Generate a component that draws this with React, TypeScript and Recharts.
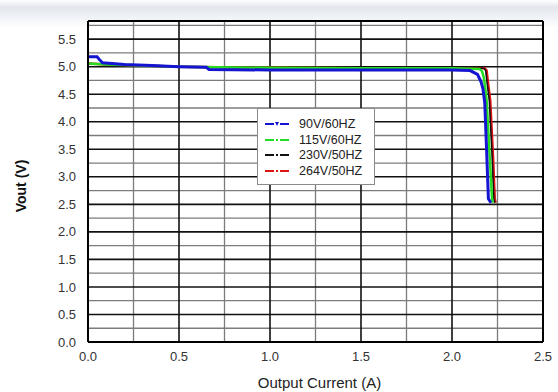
import { LineChart, Line, XAxis, YAxis, CartesianGrid, ReferenceLine } from 'recharts'

// Output current (A) / output voltage (V) for each input condition
const blueCurrent = [0, 0.05, 0.065, 0.08, 0.2, 0.35, 0.5, 0.65, 0.665, 1.0, 1.5, 2.0, 2.1, 2.14, 2.16, 2.17, 2.18, 2.19, 2.2, 2.21, 2.215]
const blueVout = [5.18, 5.18, 5.12, 5.07, 5.04, 5.02, 5.0, 4.99, 4.95, 4.94, 4.94, 4.94, 4.93, 4.86, 4.72, 4.6, 4.35, 3.5, 2.6, 2.55, 2.53]

const greenCurrent = [0, 0.1, 0.3, 0.5, 1.0, 1.5, 2.0, 2.15, 2.165, 2.175, 2.185, 2.19, 2.205, 2.22, 2.225]
const greenVout = [5.06, 5.04, 5.02, 5.0, 4.98, 4.97, 4.97, 4.96, 4.92, 4.8, 4.55, 4.4, 3.5, 2.6, 2.53]

const blackCurrent = [0, 0.1, 0.3, 0.5, 1.0, 1.5, 2.0, 2.175, 2.185, 2.195, 2.205, 2.22, 2.23, 2.235]
const blackVout = [5.06, 5.04, 5.02, 5.0, 4.98, 4.97, 4.97, 4.97, 4.93, 4.65, 4.39, 3.4, 2.6, 2.53]

const redCurrent = [0, 0.1, 0.3, 0.5, 1.0, 1.5, 2.0, 2.18, 2.19, 2.2, 2.21, 2.225, 2.235, 2.24]
const redVout = [5.06, 5.04, 5.02, 5.0, 4.98, 4.97, 4.97, 4.97, 4.93, 4.65, 4.39, 3.4, 2.6, 2.53]

const xTicks = [0, 0.5, 1.0, 1.5, 2.0, 2.5]
const yTicks = [0, 0.5, 1.0, 1.5, 2.0, 2.5, 3.0, 3.5, 4.0, 4.5, 5.0, 5.5]
const xMinorGrid = [0.25, 0.75, 1.25, 1.75, 2.25]
const yMinorGrid = [0.25, 0.75, 1.25, 1.75, 2.25, 2.75, 3.25, 3.75, 4.25, 4.75, 5.25, 5.75]

const X_MAX = 2.5
const Y_MAX = 5.83

const toPoints = (xs: number[], ys: number[]) => xs.map((i, k) => ({ i, v: ys[k] }))

const series = [
    { name: '90V/60HZ', color: '#1414d2', width: 3, data: toPoints(blueCurrent, blueVout), marker: 'tri' },
    { name: '115V/60HZ', color: '#22dd22', width: 2.5, data: toPoints(greenCurrent, greenVout), marker: 'dot' },
    { name: '230V/50HZ', color: '#111111', width: 1.5, data: toPoints(blackCurrent, blackVout), marker: 'dot' },
    { name: '264V/50HZ', color: '#dd1414', width: 2.5, data: toPoints(redCurrent, redVout), marker: 'dot' },
]

const font = '"Liberation Sans", Arial, sans-serif'

// legend box sits over the plot, so it is laid on top of the chart
const LegendBox = () => (
    <div
        style={{
            position: 'absolute',
            left: 257,
            top: 108,
            width: 118,
            height: 77,
            background: '#fff',
            border: '1px solid #8a8a8a',
            boxSizing: 'border-box',
            padding: '7px 0 0 7px',
            fontFamily: font,
            fontSize: 12.5,
            color: '#222',
        }}
    >
        {series.map((s) => (
            <div key={s.name} style={{ display: 'flex', alignItems: 'center', height: 15.7 }}>
                <svg width={24} height={8} style={{ marginRight: 10 }}>
                    <line x1={0} y1={4} x2={9} y2={4} stroke={s.color} strokeWidth={2} />
                    <line x1={15} y1={4} x2={24} y2={4} stroke={s.color} strokeWidth={2} />
                    {s.marker === 'tri' ? (
                        <polygon points="10,2 14,2 12,6" fill={s.color} />
                    ) : (
                        <rect x={11} y={3} width={2} height={2} fill={s.color} />
                    )}
                </svg>
                <span>{s.name}</span>
            </div>
        ))}
    </div>
)

const YLabel = () => (
    <text
        x={21}
        y={186}
        transform="rotate(-90 21 186)"
        textAnchor="middle"
        dominantBaseline="central"
        fontFamily={font}
        fontSize={14}
        fontWeight="bold"
        fill="#111"
    >
        Vout (V)
    </text>
)

export default function App() {
    return (
        <div style={{ position: 'absolute', left: 0, top: 0, width: 558, height: 392, background: '#fff' }}>
            <div
                style={{
                    position: 'absolute',
                    left: 0,
                    top: 0,
                    width: 558,
                    height: 28,
                    background: 'linear-gradient(#ffffff 0px, #e3e7ed 7px, #eef1f5 16px, #ffffff 28px)',
                }}
            />
            <LineChart
                width={558}
                height={392}
                margin={{ top: 21, right: 15, bottom: 0, left: 0 }}
                style={{ position: 'absolute', left: 0, top: 0 }}
            >
                <CartesianGrid
                    horizontal
                    vertical
                    horizontalValues={yMinorGrid}
                    verticalValues={xMinorGrid}
                    stroke="#7c7c7c"
                    strokeWidth={1.3}
                    fill="#fff"
                />
                <CartesianGrid
                    horizontal
                    vertical
                    horizontalValues={yTicks}
                    verticalValues={xTicks}
                    stroke="#111"
                    strokeWidth={1.6}
                />
                <XAxis
                    type="number"
                    dataKey="i"
                    domain={[0, X_MAX]}
                    ticks={xTicks}
                    allowDataOverflow
                    tickFormatter={(v: number) => v.toFixed(1)}
                    tickSize={0}
                    tickMargin={10}
                    height={50}
                    axisLine={{ stroke: '#000', strokeWidth: 2 }}
                    tick={{ fill: '#333', fontSize: 13, fontFamily: font }}
                    label={{
                        value: 'Output Current (A)',
                        position: 'insideBottom',
                        offset: 4,
                        dx: 4,
                        fill: '#222',
                        fontSize: 15,
                        fontFamily: font,
                    }}
                />
                <YAxis
                    type="number"
                    domain={[0, Y_MAX]}
                    ticks={yTicks}
                    allowDataOverflow
                    tickFormatter={(v: number) => v.toFixed(1)}
                    tickSize={0}
                    tickMargin={12}
                    width={88}
                    axisLine={{ stroke: '#000', strokeWidth: 2 }}
                    tick={{ fill: '#333', fontSize: 13, fontFamily: font }}
                    label={<YLabel />}
                />
                <ReferenceLine y={Y_MAX} stroke="#000" strokeWidth={2} />
                <ReferenceLine x={X_MAX} stroke="#000" strokeWidth={2} />
                {[...series].reverse().map((s) => (
                    <Line
                        key={s.name}
                        data={s.data}
                        dataKey="v"
                        name={s.name}
                        type="linear"
                        stroke={s.color}
                        strokeWidth={s.width}
                        dot={false}
                        activeDot={false}
                        isAnimationActive={false}
                    />
                ))}
            </LineChart>
            <LegendBox />
        </div>
    )
}
